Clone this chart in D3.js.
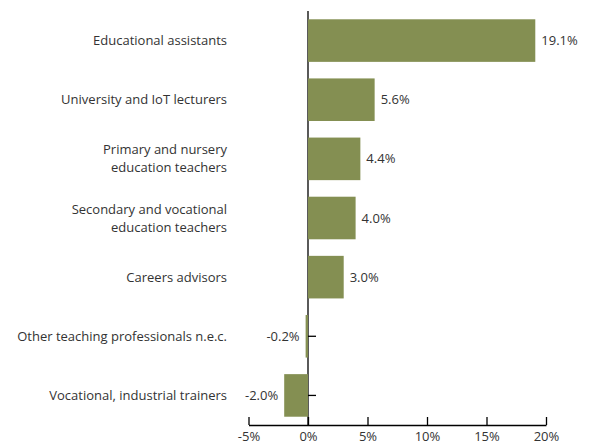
<!DOCTYPE html>
<html>
<head>
<meta charset="utf-8">
<script src="https://cdn.jsdelivr.net/npm/d3@7"></script>
<style>
  html, body { margin: 0; padding: 0; background: #fff; }
  svg { display: block; }
  text { font-family: "Open Sans", sans-serif; fill: #333; }
</style>
</head>
<body>
<svg id="chart" width="592" height="446"></svg>
<script>
// Employment change by teaching occupation (%)
const categories = [
  ["Educational assistants"],
  ["University and IoT lecturers"],
  ["Primary and nursery", "education teachers"],
  ["Secondary and vocational", "education teachers"],
  ["Careers advisors"],
  ["Other teaching professionals n.e.c."],
  ["Vocational, industrial trainers"]
];
const values = [19.1, 5.6, 4.4, 4.0, 3.0, -0.2, -2.0];
const xTicks = [-5, 0, 5, 10, 15, 20];

const svg = d3.select("#chart");
const barColor = "#848f52";

const x = d3.scaleLinear().domain([-5, 20]).range([248.5, 546]);
const y = d3.scaleBand()
  .domain(d3.range(categories.length))
  .range([11, 425])
  .paddingInner(0.28)
  .paddingOuter(0.14);

// vertical axis at zero with ticks pointing right (drawn beneath the bars)
const yAxis = svg.append("g").attr("transform", `translate(${x(0)},0)`);
yAxis.append("line")
  .attr("x1", 0).attr("x2", 0)
  .attr("y1", 11).attr("y2", 425)
  .attr("stroke", "#000").attr("stroke-width", 1.3);
yAxis.selectAll("line.tick")
  .data(values)
  .join("line")
  .attr("class", "tick")
  .attr("x1", 0).attr("x2", 8)
  .attr("y1", (d, i) => y(i) + y.bandwidth() / 2)
  .attr("y2", (d, i) => y(i) + y.bandwidth() / 2)
  .attr("stroke", "#000").attr("stroke-width", 1.3);

// bars
svg.append("g").selectAll("rect")
  .data(values)
  .join("rect")
  .attr("x", d => x(Math.min(0, d)))
  .attr("width", d => Math.abs(x(d) - x(0)))
  .attr("y", (d, i) => y(i))
  .attr("height", y.bandwidth())
  .attr("fill", barColor);

// category labels
const lineGap = 18;
svg.append("g").selectAll("text")
  .data(categories)
  .join("text")
  .attr("x", 227)
  .attr("text-anchor", "end")
  .attr("font-size", 13)
  .each(function (lines, i) {
    const cy = y(i) + y.bandwidth() / 2;
    const t = d3.select(this);
    lines.forEach((ln, k) => {
      t.append("tspan")
        .attr("x", 227)
        .attr("y", cy + (k - (lines.length - 1) / 2) * lineGap)
        .attr("dy", "0.35em")
        .text(ln);
    });
  });

// value labels
svg.append("g").selectAll("text")
  .data(values)
  .join("text")
  .attr("x", d => d >= 0 ? x(d) + 6 : x(d) - 6)
  .attr("y", (d, i) => y(i) + y.bandwidth() / 2)
  .attr("dy", "0.35em")
  .attr("text-anchor", d => d >= 0 ? "start" : "end")
  .attr("font-size", 13)
  .text(d => d.toFixed(1) + "%");

// bottom axis with ticks pointing up
const xAxis = svg.append("g").attr("transform", "translate(0,425)");
xAxis.call(
  d3.axisBottom(x)
    .tickValues(xTicks)
    .tickSize(-8)
    .tickSizeOuter(0)
    .tickFormat(d => d + "%")
);
xAxis.select(".domain").attr("stroke", "#000").attr("stroke-width", 1.3);
xAxis.selectAll(".tick line").attr("stroke", "#000").attr("stroke-width", 1.3);
xAxis.selectAll(".tick text")
  .attr("y", 7)
  .attr("dy", "0.71em")
  .attr("font-size", 13)
  .attr("font-family", "Open Sans, sans-serif")
  .attr("fill", "#333");
</script>
</body>
</html>
